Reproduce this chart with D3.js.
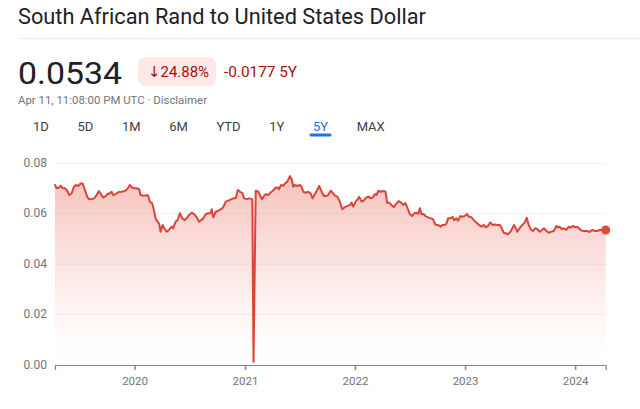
<!DOCTYPE html>
<html><head><meta charset="utf-8">
<script src="https://cdn.jsdelivr.net/npm/d3@7"></script>
<style>
body{margin:0;background:#fff}
svg{display:block}
text{font-family:Roboto,"Noto Sans","DejaVu Sans",sans-serif}
</style>
</head><body>
<svg id="chart" width="640" height="409"></svg>
<script>
// ---------- data ----------
const title = "South African Rand to United States Dollar";
const price = "0.0534";
const changePct = "↓24.88%";
const changeAbs = "-0.0177 5Y";
const timestamp = "Apr 11, 11:08:00 PM UTC · Disclaimer";
const ranges = ["1D","5D","1M","6M","YTD","1Y","5Y","MAX"];
const activeRange = "5Y";
const yTicks = [0, 0.02, 0.04, 0.06, 0.08];
const xTickYears = [2020, 2021, 2022, 2023, 2024];
// dates as decimal years
const dateYears = [
2019.277,2019.292,2019.316,2019.331,2019.347,2019.368,2019.388,2019.407,2019.428,2019.449,
2019.467,2019.488,2019.510,2019.528,2019.549,2019.570,2019.588,2019.610,2019.633,2019.655,
2019.676,2019.694,2019.715,2019.737,2019.755,2019.776,2019.791,2019.806,2019.828,2019.851,
2019.882,2019.912,2019.933,2019.957,2019.973,2019.994,2020.018,2020.042,2020.054,2020.078,
2020.109,2020.123,2020.139,2020.160,2020.178,2020.193,2020.209,2020.223,2020.236,2020.254,
2020.269,2020.290,2020.311,2020.336,2020.350,2020.372,2020.390,2020.411,2020.432,2020.450,
2020.472,2020.493,2020.517,2020.541,2020.563,2020.583,2020.602,2020.623,2020.644,2020.668,
2020.690,2020.699,2020.713,2020.735,2020.759,2020.783,2020.804,2020.826,2020.849,2020.874,
2020.895,2020.917,2020.935,2020.956,2020.978,2020.992,2021.016,2021.040,2021.067,2021.078,
2021.098,2021.122,2021.137,2021.155,2021.173,2021.191,2021.212,2021.234,2021.252,2021.273,
2021.294,2021.309,2021.328,2021.348,2021.364,2021.385,2021.409,2021.425,2021.439,2021.455,
2021.476,2021.500,2021.515,2021.530,2021.552,2021.575,2021.597,2021.615,2021.636,2021.657,
2021.675,2021.697,2021.718,2021.742,2021.757,2021.779,2021.797,2021.818,2021.840,2021.860,
2021.884,2021.908,2021.933,2021.954,2021.969,2021.984,2022.005,2022.024,2022.038,2022.060,
2022.083,2022.105,2022.126,2022.144,2022.160,2022.181,2022.196,2022.211,2022.232,2022.256,
2022.278,2022.292,2022.310,2022.332,2022.353,2022.377,2022.398,2022.416,2022.437,2022.459,
2022.477,2022.498,2022.519,2022.537,2022.559,2022.574,2022.589,2022.604,2022.625,2022.641,
2022.664,2022.689,2022.710,2022.725,2022.734,2022.755,2022.777,2022.795,2022.816,2022.831,
2022.846,2022.868,2022.886,2022.900,2022.922,2022.936,2022.958,2022.976,2022.997,2023.018,
2023.036,2023.058,2023.079,2023.103,2023.127,2023.149,2023.170,2023.188,2023.209,2023.230,
2023.249,2023.270,2023.290,2023.315,2023.330,2023.351,2023.369,2023.390,2023.412,2023.430,
2023.445,2023.460,2023.475,2023.496,2023.521,2023.542,2023.560,2023.578,2023.596,2023.617,
2023.639,2023.657,2023.678,2023.699,2023.717,2023.739,2023.760,2023.784,2023.808,2023.829,
2023.844,2023.859,2023.880,2023.898,2023.920,2023.941,2023.959,2023.980,2024.002,2024.020,
2024.041,2024.062,2024.086,2024.111,2024.132,2024.153,2024.177,2024.201,2024.222,2024.243,
2024.277
];
const rates = [
0.0712,0.0699,0.0703,0.0709,0.0699,0.0699,0.0689,0.0672,0.0679,0.0705,
0.0712,0.0708,0.0718,0.0718,0.0692,0.0665,0.0655,0.0656,0.0659,0.0672,
0.0688,0.0676,0.0663,0.0668,0.0676,0.0679,0.0685,0.0672,0.0676,0.0683,
0.0685,0.0688,0.0695,0.0712,0.0703,0.0699,0.0699,0.0695,0.0672,0.0669,
0.0671,0.0670,0.0645,0.0639,0.0606,0.0576,0.0567,0.0558,0.0527,0.0554,
0.0541,0.0527,0.0534,0.0547,0.0541,0.0567,0.0573,0.0600,0.0580,0.0573,
0.0580,0.0593,0.0602,0.0597,0.0584,0.0567,0.0573,0.0580,0.0596,0.0600,
0.0600,0.0616,0.0584,0.0606,0.0610,0.0616,0.0624,0.0646,0.0650,0.0655,
0.0659,0.0659,0.0692,0.0685,0.0680,0.0659,0.0656,0.0659,0.0656,0.0012,
0.0689,0.0685,0.0672,0.0655,0.0668,0.0676,0.0672,0.0683,0.0688,0.0699,
0.0703,0.0695,0.0712,0.0708,0.0718,0.0725,0.0747,0.0734,0.0705,0.0712,
0.0708,0.0712,0.0705,0.0685,0.0681,0.0685,0.0679,0.0659,0.0676,0.0692,
0.0708,0.0685,0.0668,0.0669,0.0672,0.0689,0.0681,0.0670,0.0666,0.0648,
0.0616,0.0624,0.0629,0.0633,0.0642,0.0626,0.0646,0.0655,0.0665,0.0646,
0.0652,0.0663,0.0665,0.0659,0.0663,0.0676,0.0672,0.0689,0.0685,0.0688,
0.0685,0.0642,0.0642,0.0633,0.0624,0.0640,0.0648,0.0643,0.0633,0.0640,
0.0620,0.0597,0.0589,0.0600,0.0602,0.0597,0.0620,0.0596,0.0597,0.0589,
0.0584,0.0580,0.0576,0.0560,0.0554,0.0554,0.0547,0.0554,0.0554,0.0560,
0.0580,0.0580,0.0586,0.0573,0.0580,0.0571,0.0589,0.0586,0.0589,0.0597,
0.0586,0.0584,0.0573,0.0563,0.0554,0.0547,0.0554,0.0544,0.0550,0.0564,
0.0554,0.0556,0.0554,0.0554,0.0544,0.0523,0.0521,0.0517,0.0527,0.0541,
0.0554,0.0541,0.0527,0.0541,0.0554,0.0563,0.0582,0.0554,0.0537,0.0530,
0.0541,0.0537,0.0527,0.0534,0.0541,0.0530,0.0523,0.0527,0.0531,0.0550,
0.0543,0.0547,0.0537,0.0541,0.0534,0.0547,0.0543,0.0550,0.0544,0.0547,
0.0537,0.0531,0.0530,0.0530,0.0526,0.0534,0.0530,0.0530,0.0534,0.0534,
0.0534
];

// ---------- helpers ----------
function yearToDate(t){
  const y = Math.floor(t);
  const s = Date.UTC(y,0,1), e = Date.UTC(y+1,0,1);
  return new Date(s + (t - y) * (e - s));
}
const data = dateYears.map((t,i)=>({date: yearToDate(t), value: rates[i]}));

const svg = d3.select("#chart");
svg.append("rect").attr("width",640).attr("height",409).attr("fill","#fff");

// ---------- header ----------
svg.append("text").attr("x",18).attr("y",23.5)
  .attr("font-size",22).attr("fill","#202124").text(title)
  .attr("textLength",408).attr("lengthAdjust","spacingAndGlyphs");
svg.append("line").attr("x1",18).attr("x2",640).attr("y1",38.5).attr("y2",38.5)
  .attr("stroke","#ebebeb").attr("stroke-width",1);

svg.append("text").attr("x",18).attr("y",84)
  .attr("font-size",32).attr("fill","#202124").text(price)
  .attr("textLength",104).attr("lengthAdjust","spacingAndGlyphs");

svg.append("rect").attr("x",138).attr("y",57).attr("width",78).attr("height",29)
  .attr("rx",8).attr("fill","#fce8e6");
svg.append("text").attr("x",148).attr("y",77)
  .attr("font-size",15).attr("fill","#a50e0e").text(changePct)
  .attr("textLength",61).attr("lengthAdjust","spacingAndGlyphs");
svg.append("text").attr("x",224).attr("y",77)
  .attr("font-size",15).attr("fill","#a50e0e").text(changeAbs)
  .attr("textLength",73).attr("lengthAdjust","spacingAndGlyphs");

svg.append("text").attr("x",18).attr("y",104)
  .attr("font-size",11.5).attr("fill","#70757a").text(timestamp)
  .attr("textLength",189).attr("lengthAdjust","spacingAndGlyphs");

// range tabs
let tx = 33;
ranges.forEach(r=>{
  const t = svg.append("text").attr("x",tx).attr("y",131)
    .attr("font-size",13).attr("fill", r===activeRange ? "#1a73e8" : "#3c4043")
    .text(r);
  const w = t.node().getComputedTextLength();
  if (r===activeRange){
    svg.append("rect").attr("x",tx+w/2-11).attr("y",133.5).attr("width",22).attr("height",3)
      .attr("rx",1.5).attr("fill","#1a73e8");
  }
  tx += w + 28.6;
});

// ---------- chart ----------
const x = d3.scaleUtc()
  .domain([data[0].date, data[data.length-1].date])
  .range([55, 605.7]);
const y = d3.scaleLinear().domain([0, 0.08]).range([365, 162.7]);

const defs = svg.append("defs");
const grad = defs.append("linearGradient").attr("id","fillGrad")
  .attr("gradientUnits","userSpaceOnUse")
  .attr("x1",0).attr("x2",0).attr("y1",y(0.075)).attr("y2",y(0));
grad.append("stop").attr("offset","0%").attr("stop-color","#e8776b").attr("stop-opacity",0.45);
grad.append("stop").attr("offset","55%").attr("stop-color","#ef8f85").attr("stop-opacity",0.2);
grad.append("stop").attr("offset","100%").attr("stop-color","#fbe3e0").attr("stop-opacity",0);

// grid
svg.append("g").selectAll("line").data(yTicks.filter(d=>d>0)).join("line")
  .attr("x1",55).attr("x2",605.7)
  .attr("y1",d=>Math.round(y(d))+0.5).attr("y2",d=>Math.round(y(d))+0.5)
  .attr("stroke","#f1f1f1").attr("stroke-width",1);

// y labels
svg.append("g").selectAll("text").data(yTicks).join("text")
  .attr("x",47).attr("y",d=>y(d)+4)
  .attr("text-anchor","end").attr("font-size",12).attr("fill","#70757a")
  .text(d=>d3.format(".2f")(d));

// area + line
svg.append("path").datum(data)
  .attr("d", d3.area().x(d=>x(d.date)).y0(y(0)).y1(d=>y(d.value)))
  .attr("fill","url(#fillGrad)");
svg.append("path").datum(data)
  .attr("d", d3.line().x(d=>x(d.date)).y(d=>y(d.value)))
  .attr("fill","none").attr("stroke","#db4437").attr("stroke-width",2)
  .attr("stroke-linejoin","round").attr("stroke-linecap","round");

// x axis
const xAxis = d3.axisBottom(x)
  .tickValues(xTickYears.map(yr=>new Date(Date.UTC(yr,0,1))))
  .tickFormat(d3.utcFormat("%Y"))
  .tickSize(5).tickPadding(7);
const gx = svg.append("g").attr("transform",`translate(0,${y(0)})`).call(xAxis);
gx.select(".domain").attr("stroke","#80868b").attr("stroke-width",1.2);
gx.selectAll(".tick line").attr("stroke","#80868b").attr("stroke-width",1.5);
gx.selectAll(".tick text").attr("fill","#70757a").attr("font-size",11.5)
  .attr("font-family","Roboto, 'Noto Sans', sans-serif");

// last point dot
const last = data[data.length-1];
svg.append("circle").attr("cx",x(last.date)).attr("cy",y(last.value)).attr("r",4.5)
  .attr("fill","#dd4b3e");
</script>
</body></html>
